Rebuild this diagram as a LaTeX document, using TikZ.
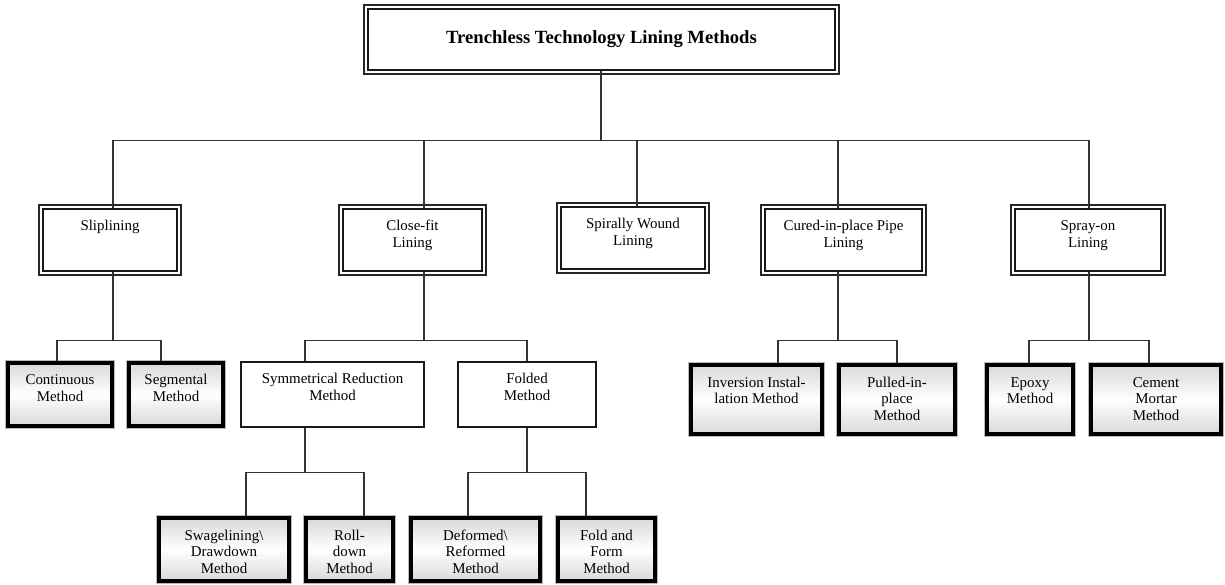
\documentclass[tikz,border=0pt]{standalone}
\usepackage{fontspec}
\setmainfont{Liberation Serif}
\usepackage{tikz}
\newdimen\pxu \pxu=0.02cm
\tikzset{
  box/.style  ={rectangle, inner sep=0pt, font=\fontsize{8.5}{9.6}\selectfont},
  % thin outer rule, white gap, heavier inner rule
  dbl/.style  ={box, draw=black!90, line width=1.2pt, fill=white,
                preaction={draw=black!85, line width=5.4pt},
                preaction={draw=white, line width=3.8pt}},
  plain/.style={box, draw=black!90, line width=1.1pt},
  % shaded end boxes: thick frame with a faint grey rim
  leaf/.style ={box, draw=black, line width=2.2pt,
                top color=gray!30, bottom color=gray!30, middle color=white,
                preaction={draw=gray!55, line width=3.4pt}},
  conn/.style ={draw=black!80, line width=0.6pt},
}
\newcommand{\btext}[3]{%
  \parbox[c][#2\pxu][t]{#1\pxu}{\centering\rule{0pt}{0.44cm}#3}}
% parent, child, drop to the bar, x offsets of both ends
\newcommand{\branch}[5]{%
  \draw[conn] ([xshift=#4\pxu]#1.south) -- ++(0,#3) -| ([xshift=#5\pxu]#2.north);}
\def\methodlist{%
  slip/110/240/134/62/{Sliplining},
  close/412.5/240/139/62/{Close-fit\\Lining},
  spiral/633/238/144/62/{Spirally Wound\\Lining},
  cipp/843.5/240/157/62/{Cured-in-place Pipe\\Lining},
  spray/1088/240/146/62/{Spray-on\\Lining}}
\def\sublist{%
  symm/332.5/394.5/183/65/{Symmetrical Reduction\\Method},
  fold/527/394.5/138/65/{Folded\\Method}}
\def\leaflist{%
  cont/60/394.5/104/63/{Continuous\\Method},
  seg/176/394.5/94/63/{Segmental\\Method},
  inv/756.5/399.5/131/69/{Inversion Instal-\\lation Method},
  pull/897/399.5/116/69/{Pulled-in-\\place\\Method},
  epoxy/1030/399.5/86/69/{Epoxy\\Method},
  cement/1156/399.5/130/69/{Cement\\Mortar\\Method},
  swage/224/549.5/130/63/{Swagelining\textbackslash\\Drawdown\\Method},
  roll/349.5/549.5/87/63/{Roll-\\down\\Method},
  deform/475.5/549.5/129/63/{Deformed\textbackslash\\Reformed\\Method},
  foldform/606.5/549.5/97/63/{Fold and\\Form\\Method}}

\begin{document}
\begin{tikzpicture}[x=0.02cm, y=-0.02cm]
\useasboundingbox (0,0) rectangle (1225,585);
\node[dbl, minimum width=9.34cm, minimum height=1.22cm,
      font=\bfseries\fontsize{10.6}{12}\selectfont] (root) at (601.5,39.5)
  {Trenchless Technology Lining Methods};
\foreach \n/\x/\y/\bw/\bh/\lab in \methodlist
  {\node[dbl] (\n) at (\x,\y) {\btext{\bw}{\bh}{\lab}};}
\foreach \n/\x/\y/\bw/\bh/\lab in \sublist
  {\node[plain] (\n) at (\x,\y) {\btext{\bw}{\bh}{\lab}};}
\foreach \n/\x/\y/\bw/\bh/\lab in \leaflist
  {\node[leaf] (\n) at (\x,\y) {\btext{\bw}{\bh}{\lab}};}
% tree connectors
\foreach \c/\dx in {slip/3, close/11.5, spiral/4, cipp/-5.5, spray/1}
  {\branch{root}{\c}{69}{-0.5}{\dx}}
\foreach \p/\c/\pdx/\cdx in {slip/cont/3/-3, slip/seg/3/-15,
    close/symm/11.5/-27.5, close/fold/11.5/0,
    cipp/inv/-5.5/21.5, cipp/pull/-5.5/0,
    spray/epoxy/1/-1, spray/cement/1/-7}
  {\branch{\p}{\c}{68}{\pdx}{\cdx}}
\foreach \p/\c/\pdx/\cdx in {symm/swage/-27.5/22, symm/roll/-27.5/14.5,
    fold/deform/0/-7.5, fold/foldform/0/-20.5}
  {\branch{\p}{\c}{45}{\pdx}{\cdx}}
\end{tikzpicture}
\end{document}
